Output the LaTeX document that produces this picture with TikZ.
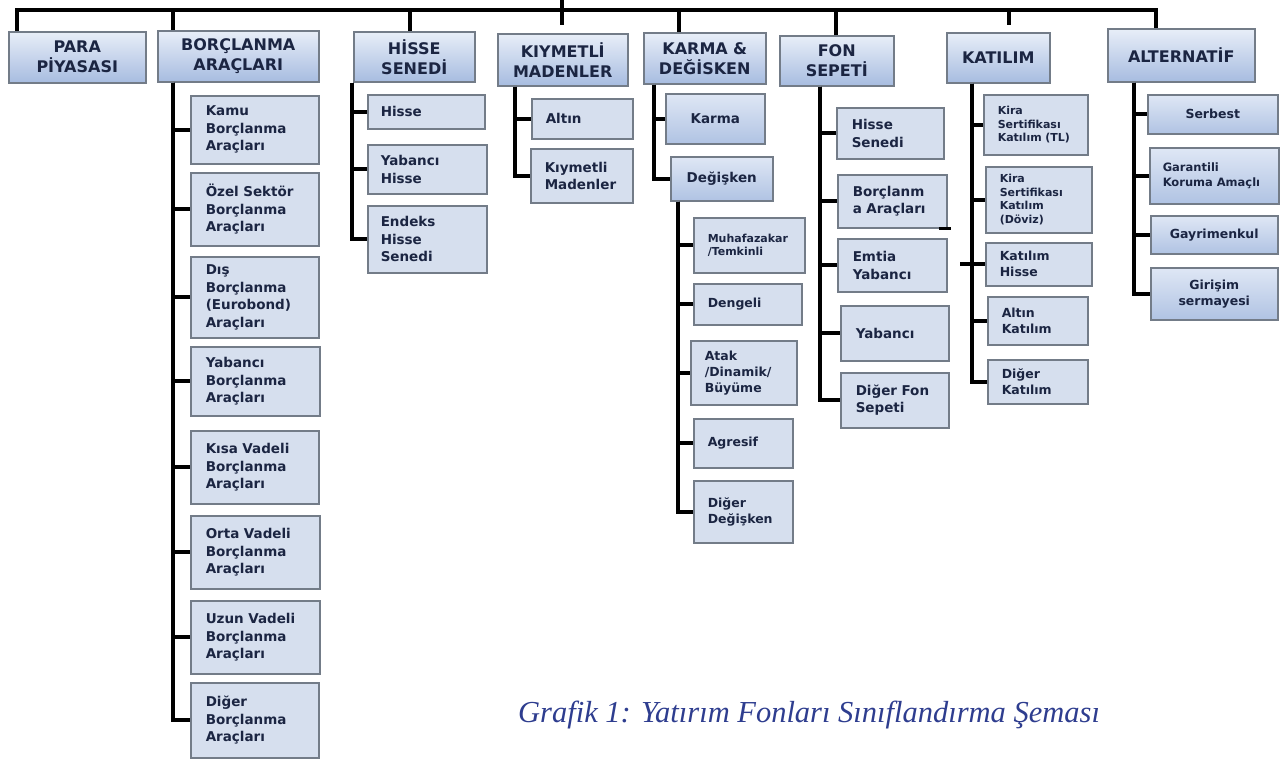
\documentclass[tikz,border=0pt]{standalone}
\usepackage{fontspec}
\setmainfont{DejaVu Sans}
\newfontfamily\capfont{Liberation Serif}
\definecolor{bord}{HTML}{737C88}
\definecolor{htop}{HTML}{E8EEF8}
\definecolor{hbot}{HTML}{A7BCE0}
\definecolor{cfill}{HTML}{D6DFEE}
\definecolor{gtop}{HTML}{DFE7F5}
\definecolor{gbot}{HTML}{B0C3E3}
\definecolor{txt}{HTML}{1B2542}
\definecolor{capc}{HTML}{2E3D8F}
\begin{document}
\begin{tikzpicture}[x=1pt,y=-1pt,
  conn/.style={line width=3.6pt, draw=black, line join=miter},
  hdr/.style={draw=bord, line width=1.5pt, top color=htop, bottom color=hbot, text=txt,
    font=\bfseries\fontsize{16}{20}\selectfont, align=center, anchor=north west,
    inner xsep=4pt, inner ysep=0pt},
  leaf/.style={draw=bord, line width=1.5pt, fill=cfill, text=txt,
    font=\bfseries\fontsize{13.5}{17.5}\selectfont, align=left, anchor=north west,
    inner xsep=15pt, inner ysep=0pt},
  gleaf/.style={leaf, top color=gtop, bottom color=gbot},
  sm/.style={font=\bfseries\fontsize{12.5}{16}\selectfont},
  xs/.style={font=\bfseries\fontsize{11}{13.5}\selectfont},
  captext/.style={text=capc, font=\capfont\itshape\fontsize{30.5}{36}\selectfont, inner sep=0pt, anchor=base west}]
\useasboundingbox[fill=white] (0,0) rectangle (1280,761);

% headers
\node[hdr, text width=129pt, minimum height=51pt] (para) at (8,31) {PARA\\PİYASASI};
\node[hdr, text width=153pt, minimum height=51pt] (borc) at (157,30) {BORÇLANMA\\ARAÇLARI};
\node[hdr, text width=113pt, minimum height=50pt] (hisse) at (353,31) {HİSSE\\SENEDİ};
\node[hdr, text width=122pt, minimum height=52pt] (kiy) at (497,33) {KIYMETLİ\\MADENLER};
\node[hdr, text width=114pt, minimum height=51pt] (karma) at (643,32) {KARMA \&\\DEĞİSKEN};
\node[hdr, text width=106pt, minimum height=50pt] (fon) at (779,35) {FON\\SEPETİ};
\node[hdr, text width=95pt, minimum height=50pt] (kat) at (946,32) {KATILIM};
\node[hdr, text width=139pt, minimum height=53pt] (alt) at (1107,28) {ALTERNATİF};

% borclanma
\node[leaf, text width=98pt, minimum height=68pt] (b1) at (190,95) {Kamu\\Borçlanma\\Araçları};
\node[leaf, text width=98pt, minimum height=73pt] (b2) at (190,172) {Özel Sektör\\Borçlanma\\Araçları};
\node[leaf, text width=98pt, minimum height=81pt] (b3) at (190,256) {Dış\\Borçlanma\\(Eurobond)\\Araçları};
\node[leaf, text width=99pt, minimum height=69pt] (b4) at (190,346) {Yabancı\\Borçlanma\\Araçları};
\node[leaf, text width=98pt, minimum height=73pt] (b5) at (190,430) {Kısa Vadeli\\Borçlanma\\Araçları};
\node[leaf, text width=99pt, minimum height=73pt] (b6) at (190,515) {Orta Vadeli\\Borçlanma\\Araçları};
\node[leaf, text width=99pt, minimum height=73pt] (b7) at (190,600) {Uzun Vadeli\\Borçlanma\\Araçları};
\node[leaf, text width=98pt, minimum height=75pt] (b8) at (190,682) {Diğer\\Borçlanma\\Araçları};

% hisse
\node[leaf, inner xsep=13pt, text width=91pt, minimum height=34pt] (h1) at (367,94) {Hisse};
\node[leaf, inner xsep=13pt, text width=93pt, minimum height=49pt] (h2) at (367,144) {Yabancı\\Hisse};
\node[leaf, inner xsep=13pt, text width=93pt, minimum height=67pt] (h3) at (367,205) {Endeks\\Hisse\\Senedi};

% kiymetli
\node[leaf, inner xsep=14pt, text width=73pt, minimum height=40pt] (k1) at (531,98) {Altın};
\node[leaf, inner xsep=14pt, text width=74pt, minimum height=54pt] (k2) at (530,148) {Kıymetli\\Madenler};

% karma
\node[gleaf, align=center, inner xsep=5pt, text width=89pt, minimum height=50pt] (m1) at (665,93) {Karma};
\node[gleaf, align=center, inner xsep=5pt, text width=92pt, minimum height=44pt] (m2) at (670,156) {Değişken};
\node[leaf, xs, inner xsep=14pt, text width=83pt, minimum height=55pt] (n1) at (693,217) {Muhafazakar\\/Temkinli};
\node[leaf, sm, inner xsep=14pt, text width=80pt, minimum height=41pt] (n2) at (693,283) {Dengeli};
\node[leaf, sm, inner xsep=14pt, text width=78pt, minimum height=64pt] (n3) at (690,340) {Atak\\/Dinamik/\\Büyüme};
\node[leaf, sm, inner xsep=14pt, text width=71pt, minimum height=49pt] (n4) at (693,418) {Agresif};
\node[leaf, sm, inner xsep=14pt, text width=71pt, minimum height=62pt] (n5) at (693,480) {Diğer\\Değişken};

% fon sepeti
\node[leaf, text width=77pt, minimum height=51pt] (f1) at (836,107) {Hisse\\Senedi};
\node[leaf, text width=79pt, minimum height=53pt] (f2) at (837,174) {Borçlanm\\a Araçları};
\node[leaf, text width=79pt, minimum height=53pt] (f3) at (837,238) {Emtia\\Yabancı};
\node[leaf, text width=78pt, minimum height=55pt] (f4) at (840,305) {Yabancı};
\node[leaf, text width=78pt, minimum height=55pt] (f5) at (840,372) {Diğer Fon\\Sepeti};

% katilim
\node[leaf, xs, inner xsep=14pt, text width=76pt, minimum height=60pt] (t1) at (983,94) {Kira\\Sertifikası\\Katılım (TL)};
\node[leaf, xs, inner xsep=14pt, text width=78pt, minimum height=66pt] (t2) at (985,166) {Kira\\Sertifikası\\Katılım\\(Döviz)};
\node[leaf, sm, inner xsep=14pt, text width=78pt, minimum height=43pt] (t3) at (985,242) {Katılım\\Hisse};
\node[leaf, sm, inner xsep=14pt, text width=72pt, minimum height=48pt] (t4) at (987,296) {Altın\\Katılım};
\node[leaf, sm, inner xsep=14pt, text width=72pt, minimum height=44pt] (t5) at (987,359) {Diğer\\Katılım};

% alternatif
\node[gleaf, sm, align=center, inner xsep=5pt, text width=120pt, minimum height=39pt] (a1) at (1147,94) {Serbest};
\node[gleaf, font=\bfseries\fontsize{11.5}{15}\selectfont, inner xsep=13pt, text width=103pt, minimum height=56pt] (a2) at (1149,147) {Garantili\\Koruma Amaçlı};
\node[gleaf, sm, align=center, inner xsep=5pt, text width=117pt, minimum height=38pt] (a3) at (1150,215) {Gayrimenkul};
\node[gleaf, sm, align=center, inner xsep=5pt, text width=117pt, minimum height=52pt] (a4) at (1150,267) {Girişim\\sermayesi};

% caption
\node[captext] (caption) at (518,722) {Grafik 1: Yatırım Fonları Sınıflandırma Şeması};

% top bar
\coordinate (barL) at (17,10);
\coordinate (barR) at (1156,10);
\draw[conn] (para.north -| barL) -- (barL) -- (barR) -- (alt.north -| barR);
\draw[conn] (borc.north -| 173,0) -- (173,10);
\draw[conn] (hisse.north -| 410,0) -- (410,10);
\draw[conn] (karma.north -| 679,0) -- (679,10);
\draw[conn] (fon.north -| 836,0) -- (836,10);
\draw[conn, shorten >=8pt] (562,0) -- (kiy.north -| 562,0);
\draw[conn, shorten >=7pt] (1009,10) -- (kat.north -| 1009,0);

% child connectors
\foreach \c in {b1,b2,b3,b4,b5,b6,b7,b8} \draw[conn] (borc.south -| 173,0) |- (\c.west);
\foreach \c in {h1,h2,h3} \draw[conn] (hisse.south -| 352,0) |- (\c.west);
\foreach \c in {k1,k2} \draw[conn] (kiy.south -| 515,0) |- (\c.west);
\foreach \c in {m1,m2} \draw[conn] (karma.south -| 654,0) |- (\c.west);
\foreach \c in {n1,n2,n3,n4,n5} \draw[conn] (m2.south -| 678,0) |- (\c.west);
\foreach \c in {f1,f2,f3,f4,f5} \draw[conn] (fon.south -| 820,0) |- (\c.west);
\foreach \c in {t1,t2,t3,t4,t5} \draw[conn] (kat.south -| 972,0) |- (\c.west);
\foreach \c in {a1,a2,a3,a4} \draw[conn] (alt.south -| 1134,0) |- (\c.west);
\draw[conn] ([xshift=-12pt]t3.west -| 972,0) -- (t3.west);
\draw[conn, line width=3pt] ([xshift=-9pt]f2.south east) -- ([xshift=3pt]f2.south east);
\end{tikzpicture}
\end{document}
